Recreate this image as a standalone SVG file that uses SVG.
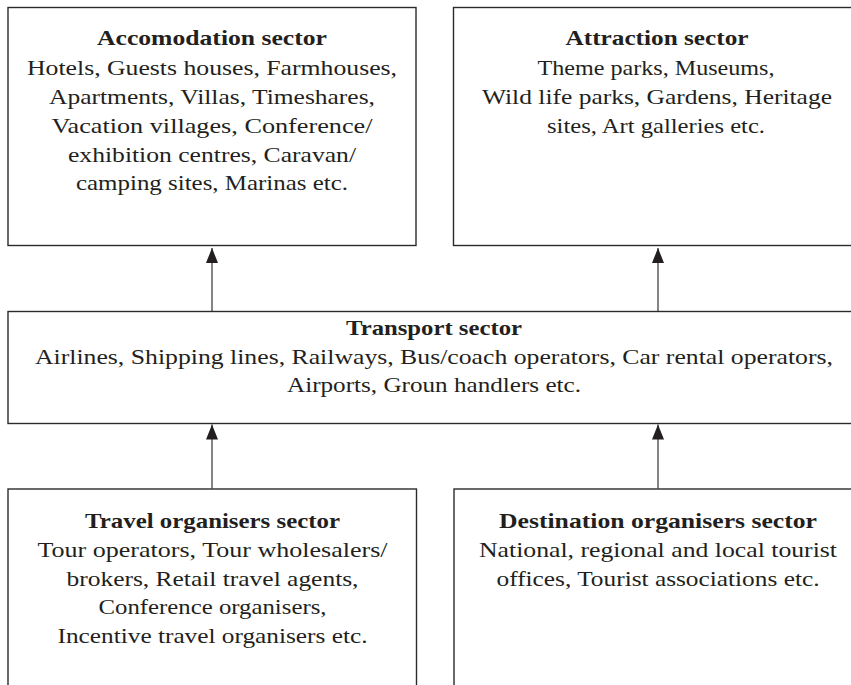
<svg xmlns="http://www.w3.org/2000/svg" width="851" height="685" viewBox="0 0 851 685">
  <defs>
    <style>
      .box { fill: #ffffff; stroke: #2b2b2b; stroke-width: 1.4; }
      .link { stroke: #231f20; stroke-width: 1.1; fill: none; marker-end: url(#head); }
      text { font-family: "Liberation Serif", "Times New Roman", serif; font-size: 21px; fill: #231f20; text-anchor: middle; }
      .title { font-weight: bold; }
    </style>
    <marker id="head" markerUnits="userSpaceOnUse" markerWidth="16" markerHeight="12" refX="15" refY="6" orient="auto">
      <path d="M0,0 L15,6 L0,12 z" fill="#231f20"/>
    </marker>
  </defs>
  <rect width="851" height="685" fill="#ffffff"/>

  <!-- sector boxes; right-hand and lower boxes run past the page edge -->
  <g id="accommodation">
    <rect class="box" x="8" y="7.5" width="408" height="238"/>
    <text class="title" x="212" y="45" textLength="230" lengthAdjust="spacingAndGlyphs">Accomodation sector</text>
    <text x="212" y="75" textLength="370" lengthAdjust="spacingAndGlyphs">Hotels, Guests houses, Farmhouses,</text>
    <text x="212" y="104" textLength="326" lengthAdjust="spacingAndGlyphs">Apartments, Villas, Timeshares,</text>
    <text x="212" y="133" textLength="321" lengthAdjust="spacingAndGlyphs">Vacation villages, Conference/</text>
    <text x="212" y="161.5" textLength="288" lengthAdjust="spacingAndGlyphs">exhibition centres, Caravan/</text>
    <text x="212" y="190" textLength="272" lengthAdjust="spacingAndGlyphs">camping sites, Marinas etc.</text>
  </g>

  <g id="attraction">
    <rect class="box" x="453.5" y="7.5" width="420" height="238"/>
    <text class="title" x="657" y="45" textLength="183" lengthAdjust="spacingAndGlyphs">Attraction sector</text>
    <text x="656" y="75" textLength="237" lengthAdjust="spacingAndGlyphs">Theme parks, Museums,</text>
    <text x="657" y="104" textLength="350" lengthAdjust="spacingAndGlyphs">Wild life parks, Gardens, Heritage</text>
    <text x="656" y="133" textLength="218" lengthAdjust="spacingAndGlyphs">sites, Art galleries etc.</text>
  </g>

  <g id="transport">
    <rect class="box" x="8" y="311.5" width="870" height="112"/>
    <text class="title" x="434" y="335" textLength="176" lengthAdjust="spacingAndGlyphs">Transport sector</text>
    <text x="434" y="364" textLength="798" lengthAdjust="spacingAndGlyphs">Airlines, Shipping lines, Railways, Bus/coach operators, Car rental operators,</text>
    <text x="434" y="392" textLength="294" lengthAdjust="spacingAndGlyphs">Airports, Groun handlers etc.</text>
  </g>

  <g id="travel-organisers">
    <rect class="box" x="8" y="489" width="408.5" height="220"/>
    <text class="title" x="212.5" y="528" textLength="255" lengthAdjust="spacingAndGlyphs">Travel organisers sector</text>
    <text x="212.5" y="557" textLength="350" lengthAdjust="spacingAndGlyphs">Tour operators, Tour wholesalers/</text>
    <text x="212.5" y="585.5" textLength="292" lengthAdjust="spacingAndGlyphs">brokers, Retail travel agents,</text>
    <text x="212.5" y="614" textLength="228" lengthAdjust="spacingAndGlyphs">Conference organisers,</text>
    <text x="212.5" y="642.5" textLength="310" lengthAdjust="spacingAndGlyphs">Incentive travel organisers etc.</text>
  </g>

  <g id="destination-organisers">
    <rect class="box" x="454" y="489" width="420" height="220"/>
    <text class="title" x="658" y="528" textLength="318" lengthAdjust="spacingAndGlyphs">Destination organisers sector</text>
    <text x="658" y="557" textLength="358" lengthAdjust="spacingAndGlyphs">National, regional and local tourist</text>
    <text x="658" y="585.5" textLength="323" lengthAdjust="spacingAndGlyphs">offices, Tourist associations etc.</text>
  </g>

  <!-- upward links between sectors -->
  <g id="connectors">
    <line class="link" x1="212" y1="311" x2="212" y2="248"/>
    <line class="link" x1="658" y1="311" x2="658" y2="248"/>
    <line class="link" x1="212" y1="488.5" x2="212" y2="424.5"/>
    <line class="link" x1="658" y1="488.5" x2="658" y2="424.5"/>
  </g>
</svg>
